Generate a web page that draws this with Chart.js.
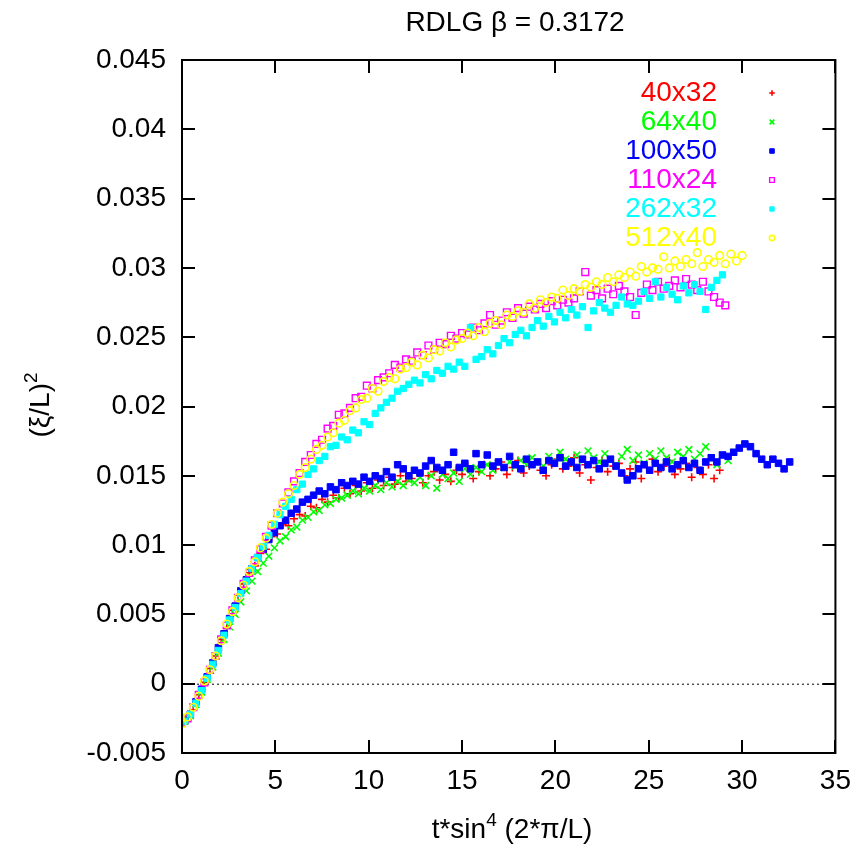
<!DOCTYPE html>
<html lang="en">
<head>
    <meta charset="UTF-8">
    <title>RDLG beta = 0.3172</title>
    <script src="https://cdn.jsdelivr.net/npm/chart.js@4.4.0/dist/chart.umd.min.js"></script>
    <style>
        body { margin: 0; background: #fff; }
        #wrap { width: 862px; height: 850px; }
    </style>
</head>
<body>
<div id="wrap"><canvas id="xiChart" width="862" height="850"></canvas></div>
<script>
    // time grids (two interleaved samplings)
    const tEven = [0, 0.3, 0.6, 0.9, 1.2, 1.5, 1.8, 2.1, 2.4, 2.7, 3, 3.3, 3.6, 3.9, 4.2, 4.5, 4.8, 5.1, 5.4, 5.7,
        6, 6.3, 6.6, 6.9, 7.2, 7.5, 7.8, 8.1, 8.4, 8.7, 9, 9.3, 9.6, 9.9, 10.2, 10.5, 10.8, 11.1, 11.4, 11.7,
        12, 12.3, 12.6, 12.9, 13.2, 13.5, 13.8, 14.1, 14.4, 14.7, 15, 15.3, 15.6, 15.9, 16.2, 16.5, 16.8, 17.1, 17.4, 17.7,
        18, 18.3, 18.6, 18.9, 19.2, 19.5, 19.8, 20.1, 20.4, 20.7, 21, 21.3, 21.6, 21.9, 22.2, 22.5, 22.8, 23.1, 23.4, 23.7,
        24, 24.3, 24.6, 24.9, 25.2, 25.5, 25.8, 26.1, 26.4, 26.7, 27, 27.3, 27.6, 27.9, 28.2, 28.5, 28.8, 29.1, 29.4, 29.7,
        30];
    const tOdd = [0.15, 0.45, 0.75, 1.05, 1.35, 1.65, 1.95, 2.25, 2.55, 2.85, 3.15, 3.45, 3.75, 4.05, 4.35, 4.65, 4.95, 5.25, 5.55, 5.85,
        6.15, 6.45, 6.75, 7.05, 7.35, 7.65, 7.95, 8.25, 8.55, 8.85, 9.15, 9.45, 9.75, 10.05, 10.35, 10.65, 10.95, 11.25, 11.55, 11.85,
        12.15, 12.45, 12.75, 13.05, 13.35, 13.65, 13.95, 14.25, 14.55, 14.85, 15.15, 15.45, 15.75, 16.05, 16.35, 16.65, 16.95, 17.25, 17.55, 17.85,
        18.15, 18.45, 18.75, 19.05, 19.35, 19.65, 19.95, 20.25, 20.55, 20.85, 21.15, 21.45, 21.75, 22.05, 22.35, 22.65, 22.95, 23.25, 23.55, 23.85,
        24.15, 24.45, 24.75, 25.05, 25.35, 25.65, 25.95, 26.25, 26.55, 26.85, 27.15, 27.45, 27.75, 28.05, 28.35, 28.65, 28.95, 29.25, 29.55, 29.85,
        30.15, 30.45, 30.75, 31.05, 31.35, 31.65, 31.95, 32.25, 32.55];

    const seriesNames = ['40x32', '64x40', '100x50', '110x24', '262x32', '512x40'];

    // (xi/L)^2
    const xi40x32 = [-0.0028, -0.0024, -0.0019, -0.0008, 0.0001, 0.0011, 0.0020, 0.0032, 0.0040, 0.0053,
        0.0064, 0.0072, 0.0080, 0.0085, 0.0094, 0.0097, 0.0106, 0.0108, 0.0115, 0.0114,
        0.0119, 0.0122, 0.0121, 0.0128, 0.0127, 0.0133, 0.0131, 0.0136, 0.0134, 0.0141,
        0.0137, 0.0143, 0.0139, 0.0145, 0.0141, 0.0147, 0.0143, 0.0149, 0.0144, 0.0150,
        0.0146, 0.0148, 0.0152, 0.0145, 0.0150, 0.0153, 0.0147, 0.0151, 0.0146, 0.0154,
        0.0151, 0.0157, 0.0148, 0.0153, 0.0158, 0.0150, 0.0155, 0.0160, 0.0151, 0.0156,
        0.0161, 0.0152, 0.0157, 0.0160, 0.0154, 0.0150, 0.0158, 0.0162, 0.0155, 0.0157,
        0.0163, 0.0152, 0.0158, 0.0147, 0.0156, 0.0161, 0.0153, 0.0157, 0.0159, 0.0150,
        0.0155, 0.0160, 0.0148, 0.0156, 0.0162, 0.0153, 0.0157, 0.0161, 0.0151, 0.0155,
        0.0159, 0.0149, 0.0156, 0.0151, 0.0158, 0.0148, 0.0154];
    const xi64x40 = [-0.0027, -0.0023, -0.0015, -0.0006, 0.0003, 0.0012, 0.0022, 0.0032, 0.0041, 0.0050,
        0.0059, 0.0067, 0.0074, 0.0081, 0.0087, 0.0092, 0.0098, 0.0103, 0.0106, 0.0111,
        0.0113, 0.0118, 0.0120, 0.0124, 0.0125, 0.0129, 0.0130, 0.0133, 0.0134, 0.0136,
        0.0139, 0.0137, 0.0141, 0.0139, 0.0143, 0.0140, 0.0145, 0.0142, 0.0146, 0.0143,
        0.0147, 0.0145, 0.0149, 0.0143, 0.0150, 0.0141, 0.0151, 0.0148, 0.0152, 0.0146,
        0.0155, 0.0151, 0.0156, 0.0153, 0.0158, 0.0154, 0.0159, 0.0156, 0.0160, 0.0157,
        0.0161, 0.0158, 0.0163, 0.0160, 0.0157, 0.0164, 0.0161, 0.0167, 0.0162, 0.0159,
        0.0165, 0.0161, 0.0168, 0.0163, 0.0160, 0.0166, 0.0162, 0.0158, 0.0164, 0.0169,
        0.0161, 0.0165, 0.0159, 0.0166, 0.0162, 0.0168, 0.0163, 0.0160, 0.0167, 0.0164,
        0.0169, 0.0162, 0.0166, 0.0171, 0.0163, 0.0158, 0.0165, 0.0161, 0.0167];
    const xi100x50 = [-0.0027, -0.0022, -0.0013, -0.0004, 0.0005, 0.0015, 0.0026, 0.0036, 0.0047, 0.0056,
        0.0067, 0.0075, 0.0083, 0.0091, 0.0097, 0.0104, 0.0109, 0.0114, 0.0118, 0.0123,
        0.0126, 0.0131, 0.0133, 0.0136, 0.0139, 0.0137, 0.0142, 0.0140, 0.0145, 0.0143,
        0.0146, 0.0144, 0.0149, 0.0146, 0.0150, 0.0148, 0.0153, 0.0149, 0.0158, 0.0155,
        0.0150, 0.0154, 0.0152, 0.0157, 0.0161, 0.0156, 0.0154, 0.0158, 0.0167, 0.0156,
        0.0159, 0.0155, 0.0166, 0.0158, 0.0165, 0.0157, 0.0160, 0.0156, 0.0164, 0.0158,
        0.0155, 0.0162, 0.0158, 0.0160, 0.0154, 0.0161, 0.0159, 0.0163, 0.0157, 0.0160,
        0.0156, 0.0162, 0.0158, 0.0161, 0.0155, 0.0159, 0.0162, 0.0157, 0.0152, 0.0147,
        0.0150, 0.0155, 0.0158, 0.0154, 0.0159, 0.0156, 0.0160, 0.0155, 0.0158, 0.0161,
        0.0156, 0.0159, 0.0154, 0.0160, 0.0163, 0.0160, 0.0165, 0.0164, 0.0167, 0.0170,
        0.0173, 0.0171, 0.0166, 0.0162, 0.0158, 0.0162, 0.0159, 0.0155, 0.0160];
    const xi110x24 = [-0.0028, -0.0025, -0.0017, -0.0008, 0.0001, 0.0010, 0.0020, 0.0032, 0.0042, 0.0053,
        0.0062, 0.0072, 0.0080, 0.0089, 0.0097, 0.0106, 0.0114, 0.0123, 0.0130, 0.0138,
        0.0146, 0.0152, 0.0160, 0.0165, 0.0173, 0.0176, 0.0184, 0.0186, 0.0194, 0.0195,
        0.0199, 0.0206, 0.0207, 0.0215, 0.0213, 0.0219, 0.0221, 0.0224, 0.0230, 0.0228,
        0.0234, 0.0233, 0.0239, 0.0237, 0.0244, 0.0241, 0.0246, 0.0245, 0.0251, 0.0249,
        0.0253, 0.0252, 0.0257, 0.0255, 0.0260, 0.0266, 0.0259, 0.0262, 0.0268, 0.0264,
        0.0271, 0.0267, 0.0272, 0.0270, 0.0274, 0.0271, 0.0276, 0.0273, 0.0277, 0.0275,
        0.0278, 0.0283, 0.0297, 0.0280, 0.0284, 0.0278, 0.0285, 0.0281, 0.0287, 0.0283,
        0.0279, 0.0266, 0.0282, 0.0288, 0.0284, 0.0290, 0.0285, 0.0287, 0.0291, 0.0286,
        0.0292, 0.0288, 0.0284, 0.0290, 0.0283, 0.0279, 0.0275, 0.0273];
    const xi262x32 = [-0.0027, -0.0022, -0.0014, -0.0005, 0.0004, 0.0014, 0.0024, 0.0035, 0.0046, 0.0055,
        0.0065, 0.0074, 0.0083, 0.0091, 0.0099, 0.0107, 0.0115, 0.0122, 0.0128, 0.0133,
        0.0140, 0.0144, 0.0151, 0.0155, 0.0161, 0.0164, 0.0171, 0.0172, 0.0178, 0.0176,
        0.0183, 0.0181, 0.0189, 0.0187, 0.0195, 0.0199, 0.0203, 0.0206, 0.0211, 0.0213,
        0.0216, 0.0219, 0.0217, 0.0223, 0.0220, 0.0226, 0.0224, 0.0229, 0.0227, 0.0232,
        0.0229, 0.0257, 0.0234, 0.0236, 0.0241, 0.0238, 0.0244, 0.0249, 0.0246, 0.0252,
        0.0255, 0.0251, 0.0257, 0.0262, 0.0258, 0.0265, 0.0261, 0.0268, 0.0264, 0.0270,
        0.0266, 0.0272, 0.0257, 0.0269, 0.0275, 0.0271, 0.0268, 0.0273, 0.0279, 0.0274,
        0.0273, 0.0276, 0.0283, 0.0278, 0.0290, 0.0279, 0.0286, 0.0281, 0.0277, 0.0287,
        0.0282, 0.0288, 0.0283, 0.0270, 0.0286, 0.0291, 0.0295];
    const xi512x40 = [-0.0029, -0.0024, -0.0017, -0.0009, 0.0002, 0.0010, 0.0020, 0.0031, 0.0043, 0.0052,
        0.0062, 0.0071, 0.0081, 0.0088, 0.0098, 0.0105, 0.0115, 0.0123, 0.0131, 0.0137,
        0.0143, 0.0151, 0.0156, 0.0162, 0.0169, 0.0172, 0.0178, 0.0181, 0.0188, 0.0190,
        0.0197, 0.0199, 0.0205, 0.0206, 0.0213, 0.0211, 0.0218, 0.0221, 0.0220, 0.0227,
        0.0228, 0.0232, 0.0230, 0.0237, 0.0235, 0.0241, 0.0240, 0.0246, 0.0243, 0.0248,
        0.0249, 0.0253, 0.0251, 0.0257, 0.0254, 0.0260, 0.0262, 0.0259, 0.0266, 0.0265,
        0.0269, 0.0268, 0.0274, 0.0271, 0.0277, 0.0275, 0.0279, 0.0278, 0.0284, 0.0280,
        0.0285, 0.0283, 0.0288, 0.0286, 0.0290, 0.0288, 0.0293, 0.0290, 0.0295, 0.0293,
        0.0297, 0.0294, 0.0301, 0.0297, 0.0300, 0.0299, 0.0308, 0.0300, 0.0305, 0.0301,
        0.0306, 0.0303, 0.0311, 0.0301, 0.0306, 0.0304, 0.0309, 0.0303, 0.0310, 0.0305,
        0.0309];

    const seriesX = [tEven, tOdd, tOdd, tEven, tOdd, tEven];
    const seriesY = [xi40x32, xi64x40, xi100x50, xi110x24, xi262x32, xi512x40];

    // gnuplot-like point types
    const markStyles = [
        { color: '#ff0000', pointStyle: 'cross', radius: 4, borderWidth: 1.6, fill: false },
        { color: '#00ff00', pointStyle: 'crossRot', radius: 4.8, borderWidth: 1.6, fill: false },
        { color: '#0000ff', pointStyle: 'rect', radius: 4.6, borderWidth: 1, fill: true },
        { color: '#ff00ff', pointStyle: 'rect', radius: 4.8, borderWidth: 1.4, fill: false },
        { color: '#00ffff', pointStyle: 'rect', radius: 4.4, borderWidth: 1, fill: true },
        { color: '#ffff00', pointStyle: 'circle', radius: 3.8, borderWidth: 1.6, fill: false }
    ];

    const FONT = '"Liberation Sans", Arial, Helvetica, sans-serif';

    function drawParts(ctx, parts, cx, cy) {
        // parts: [text, isSuperscript]
        let total = 0;
        parts.forEach(p => {
            ctx.font = (p[1] ? '19px ' : '28px ') + FONT;
            total += ctx.measureText(p[0]).width;
        });
        let x = cx - total / 2;
        ctx.textAlign = 'left';
        ctx.textBaseline = 'alphabetic';
        parts.forEach(p => {
            ctx.font = (p[1] ? '19px ' : '28px ') + FONT;
            ctx.fillText(p[0], x, p[1] ? cy - 12 : cy);
            x += ctx.measureText(p[0]).width;
        });
    }

    const gnuplotLook = {
        id: 'gnuplotLook',
        beforeDatasetsDraw(chart) {
            const { ctx, chartArea: a, scales: { y } } = chart;
            const y0 = y.getPixelForValue(0);
            ctx.save();
            ctx.strokeStyle = '#000';
            ctx.lineWidth = 1;
            ctx.setLineDash([2, 3]);
            ctx.beginPath();
            ctx.moveTo(a.left, y0 + 0.5);
            ctx.lineTo(a.right, y0 + 0.5);
            ctx.stroke();
            ctx.restore();
        },
        afterDraw(chart) {
            const { ctx, chartArea: a, scales: { x, y } } = chart;
            ctx.save();
            ctx.strokeStyle = '#000';
            ctx.lineWidth = 2;
            ctx.strokeRect(a.left, a.top, a.right - a.left, a.bottom - a.top);
            const tl = 13;
            ctx.beginPath();
            y.ticks.forEach(t => {
                const p = Math.round(y.getPixelForValue(t.value));
                ctx.moveTo(a.left, p); ctx.lineTo(a.left + tl, p);
                ctx.moveTo(a.right, p); ctx.lineTo(a.right - tl, p);
            });
            x.ticks.forEach(t => {
                const p = Math.round(x.getPixelForValue(t.value));
                ctx.moveTo(p, a.bottom); ctx.lineTo(p, a.bottom - tl);
                ctx.moveTo(p, a.top); ctx.lineTo(p, a.top + tl);
            });
            ctx.stroke();

            // title and axis titles
            ctx.fillStyle = '#000';
            ctx.font = '28px ' + FONT;
            ctx.textAlign = 'center';
            ctx.textBaseline = 'middle';
            ctx.fillText('RDLG \u03b2 = 0.3172', 515, 23);
            drawParts(ctx, [['t*sin', false], ['4', true], [' (2*\u03c0/L)', false]], 512, 838);
            ctx.save();
            ctx.translate(49, 405);
            ctx.rotate(-Math.PI / 2);
            drawParts(ctx, [['(\u03be/L)', false], ['2', true]], 0, 0);
            ctx.restore();

            // key, gnuplot style: right aligned labels then sample point
            chart.data.datasets.forEach((ds, i) => {
                const st = markStyles[i];
                const ly = 93 + i * 29;
                ctx.font = '28px ' + FONT;
                ctx.textAlign = 'right';
                ctx.textBaseline = 'middle';
                ctx.fillStyle = st.color;
                ctx.fillText(ds.label, 717, ly);
                ctx.strokeStyle = st.color;
                ctx.fillStyle = st.fill ? st.color : 'rgba(0,0,0,0)';
                ctx.lineWidth = st.borderWidth;
                Chart.helpers.drawPoint(ctx, {
                    pointStyle: st.pointStyle, radius: st.radius * 0.7,
                    borderWidth: st.borderWidth, rotation: 0
                }, 772, ly);
            });
            ctx.restore();
        }
    };

    const datasets = seriesNames.map((name, i) => {
        const st = markStyles[i];
        return {
            label: name,
            data: seriesY[i].map((v, k) => ({ x: seriesX[i][k], y: v })),
            showLine: false,
            pointStyle: st.pointStyle,
            pointRadius: st.radius,
            pointBorderWidth: st.borderWidth,
            pointBorderColor: st.color,
            pointBackgroundColor: st.fill ? st.color : 'rgba(0,0,0,0)',
            order: seriesNames.length - i
        };
    });

    new Chart(document.getElementById('xiChart'), {
        type: 'scatter',
        data: { datasets },
        options: {
            responsive: false,
            animation: false,
            devicePixelRatio: 1,
            layout: { padding: { top: 60, right: 20, left: 0, bottom: 0 } },
            plugins: {
                legend: { display: false },
                tooltip: { enabled: false }
            },
            scales: {
                x: {
                    type: 'linear',
                    min: 0,
                    max: 35,
                    grid: { display: false, drawTicks: false },
                    border: { display: false },
                    ticks: { stepSize: 5, color: '#000', padding: 11, font: { family: FONT, size: 28 } },
                    afterFit: s => { s.height = 97; }
                },
                y: {
                    min: -0.005,
                    max: 0.045,
                    grid: { display: false, drawTicks: false },
                    border: { display: false },
                    ticks: {
                        stepSize: 0.005,
                        color: '#000',
                        padding: 16,
                        font: { family: FONT, size: 28 },
                        callback: v => String(+v.toFixed(3))
                    },
                    afterFit: s => { s.width = 182; }
                }
            }
        },
        plugins: [gnuplotLook]
    });
</script>
</body>
</html>
